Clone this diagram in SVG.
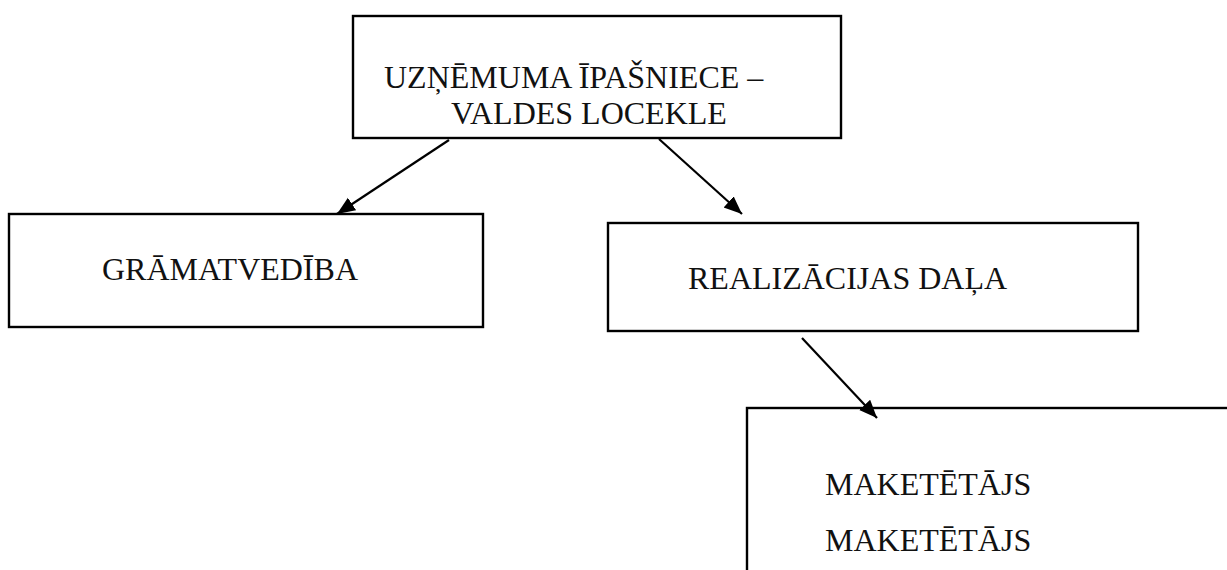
<svg xmlns="http://www.w3.org/2000/svg" width="1227" height="570" viewBox="0 0 1227 570">
<style>
.box{fill:#fff;stroke:#000;stroke-width:2.4}
.t{font-family:"Liberation Serif","Times New Roman",serif;font-size:32px;fill:#111}
.c{stroke:#000;stroke-width:2.2;fill:none}
</style>
<defs>
<marker id="ah" markerUnits="userSpaceOnUse" markerWidth="20" markerHeight="16" refX="18" refY="7.5" orient="auto">
<path d="M0,0 L18,7.5 L0,15 z" fill="#000"/>
</marker>
</defs>
<rect width="1227" height="570" fill="#fff"/>
<g id="owner">
<rect class="box" x="353" y="16" width="488" height="122"/>
<text class="t" x="384" y="88">UZŅĒMUMA ĪPAŠNIECE –</text>
<text class="t" x="451" y="124">VALDES LOCEKLE</text>
</g>
<g id="gramatvediba">
<rect class="box" x="9" y="214" width="474" height="113"/>
<text class="t" x="102" y="280">GRĀMATVEDĪBA</text>
</g>
<g id="realizacija">
<rect class="box" x="608" y="223" width="530" height="108"/>
<text class="t" x="688" y="289">REALIZĀCIJAS DAĻA</text>
</g>
<g id="maketetajs">
<rect class="box" x="747" y="408" width="600" height="300"/>
<text class="t" x="825" y="495">MAKETĒTĀJS</text>
<text class="t" x="825" y="551">MAKETĒTĀJS</text>
</g>
<g id="connectors">
<line class="c" x1="449" y1="140" x2="337" y2="214" marker-end="url(#ah)"/>
<line class="c" x1="659" y1="139" x2="742" y2="214" marker-end="url(#ah)"/>
<line class="c" x1="802" y1="338" x2="877" y2="418" marker-end="url(#ah)"/>
</g>
</svg>
